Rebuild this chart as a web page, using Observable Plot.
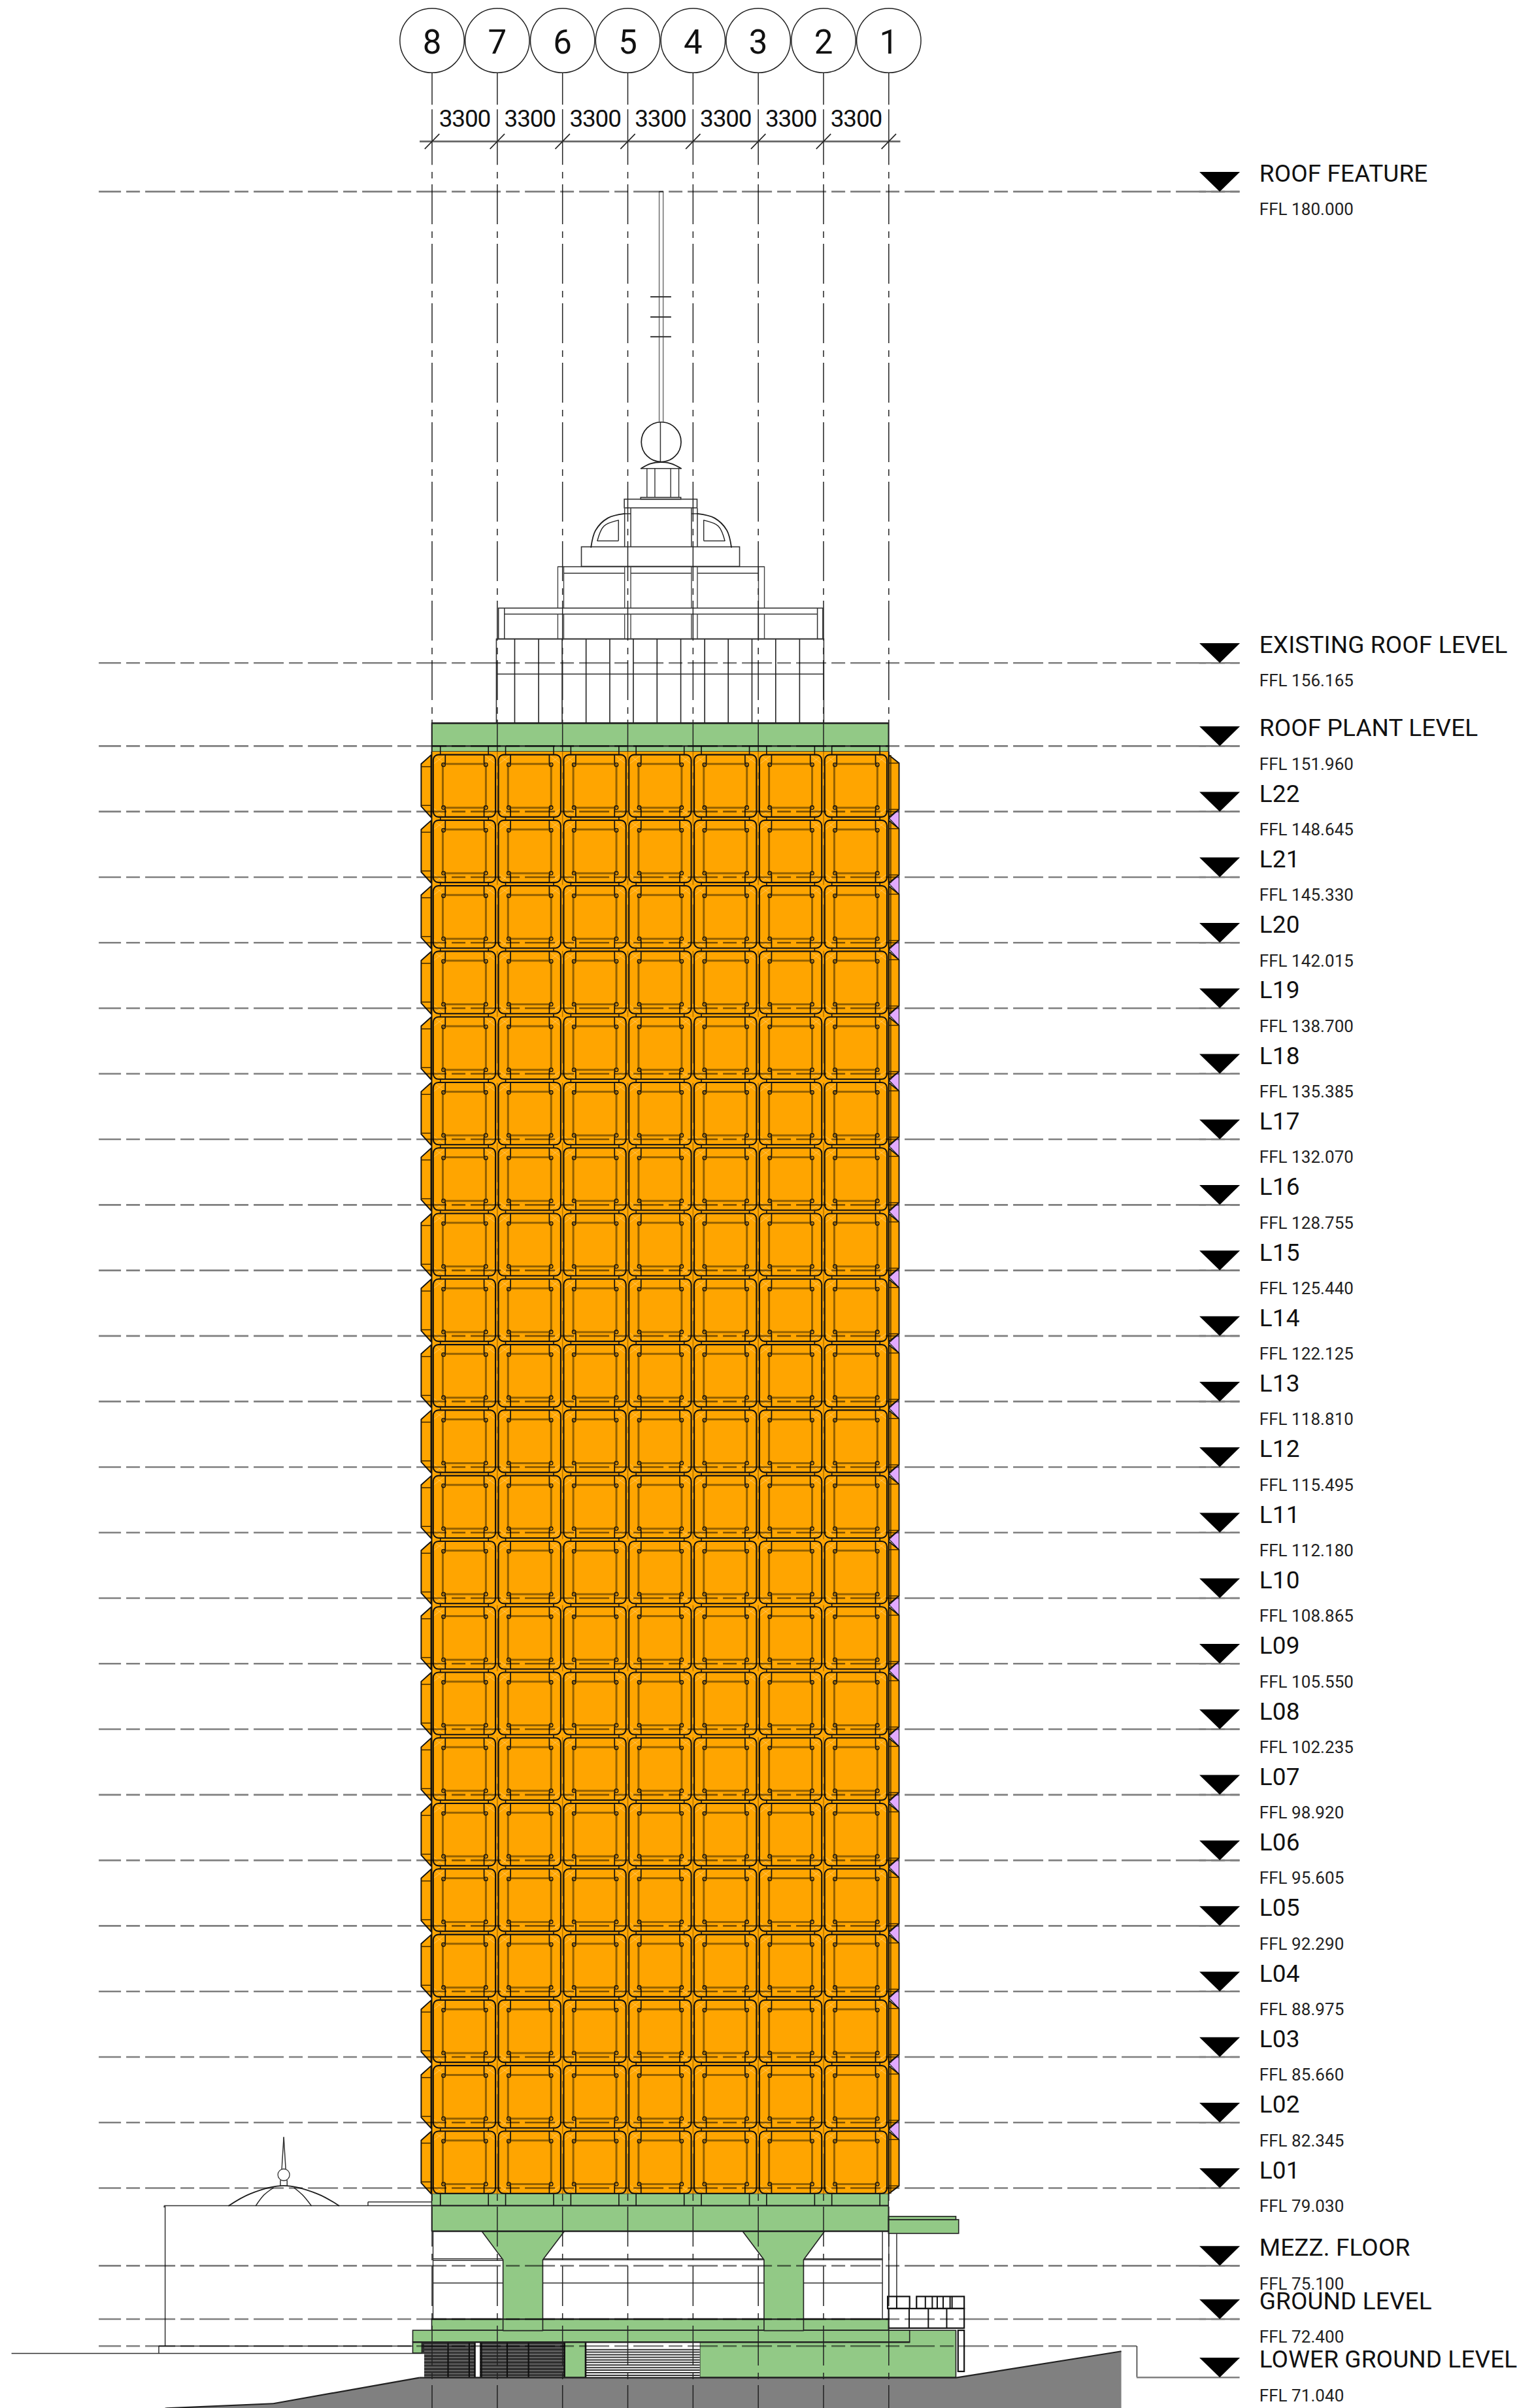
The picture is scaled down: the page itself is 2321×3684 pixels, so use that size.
<!DOCTYPE html>
<html><head><meta charset="utf-8">
<script src="https://cdn.jsdelivr.net/npm/d3@7"></script>
<script src="https://cdn.jsdelivr.net/npm/@observablehq/plot@0.6"></script>
<style>
html,body{margin:0;padding:0;background:#fff}
svg{display:block}
.lname text{letter-spacing:.1px}
.lffl text{letter-spacing:.05px}
.dim text{letter-spacing:-1.2px}
</style></head><body><div id="chart"></div>
<script>
// All x values: metres east of grid line 8. All y values: FFL in metres.
const gridNames=["8","7","6","5","4","3","2","1"];
const gridX=[0,3.3,6.6,9.9,13.2,16.5,19.8,23.1];
const bayLabels=["3300","3300","3300","3300","3300","3300","3300"];
const levelNames=["ROOF FEATURE","EXISTING ROOF LEVEL","ROOF PLANT LEVEL","L22","L21","L20","L19","L18","L17","L16","L15","L14","L13","L12","L11","L10","L09","L08","L07","L06","L05","L04","L03","L02","L01","MEZZ. FLOOR","GROUND LEVEL","LOWER GROUND LEVEL"];
const levelFFL=[180,156.165,151.96,148.645,145.33,142.015,138.7,135.385,132.07,128.755,125.44,122.125,118.81,115.495,112.18,108.865,105.55,102.235,98.92,95.605,92.29,88.975,85.66,82.345,79.03,75.1,72.4,71.04];
const levelText=["180.000","156.165","151.960","148.645","145.330","142.015","138.700","135.385","132.070","128.755","125.440","122.125","118.810","115.495","112.180","108.865","105.550","102.235","98.920","95.605","92.290","88.975","85.660","82.345","79.030","75.100","72.400","71.040"];
const lowerMarkerY=69.45;
const markerY=levelFFL.map((v,i)=>i===27?lowerMarkerY:v);
const green="#92c986",orange="#ffa500",purple="#e2aaff",grey="#808080",ink="#1c1c1c";
const greenRects=[[0,23.1,151.66,153.11],[0,23.1,76.84,78.74],[23.1,26.65,76.72,77.42],[23.1,26.51,77.42,77.58],[0,23.1,71.82,72.4],[13.56,26.51,69.44,71.82],[-0.96,24.17,71.23,71.82],[-0.96,-0.5,70.67,71.23],[6.73,7.77,69.44,71.23]];
const columnLeft=[[2.52,76.84],[6.69,76.84],[5.6,75.4],[5.6,71.82],[3.59,71.82],[3.59,75.4]];
const columnRight=[[15.71,76.84],[19.85,76.84],[18.79,75.4],[18.79,71.82],[16.79,71.82],[16.79,75.4]];
const groundShape=[[-0.64,69.44],[26.51,69.44],[34.86,70.775],[34.86,67.89],[-13.5,67.89],[-8.03,68.13]];
const roofRects=[[3.27,19.83,153.11,157.36],[3.375,19.78,157.36,158.92],[7.57,15.57,161.03,162.02],[9.74,13.42,163.99,164.43],[10.57,12.6,164.43,164.52]];
const roofBays=[4.18,5.39,6.58,7.79,8.99,10.18,11.38,12.58,13.79,14.98,16.18,17.38,18.59];
const tierPosts=[6.36,6.66,9.74,10.05,13.12,13.42,16.51,16.81];
const lanternCols=[10.87,11.27,12.07,12.48];
const mastX=[11.49,11.69];
const mastTicks=[174.68,173.66,172.66];
const thinLines=[
 [3.27,155.6,19.83,155.6],[3.66,158.63,19.49,158.63],[3.66,157.36,3.66,158.92],[19.49,157.36,19.49,158.92],
 [6.36,161.03,16.81,161.03],[6.66,160.7,9.74,160.7],[10.05,160.7,13.12,160.7],[13.42,160.7,16.51,160.7],
 [10.05,162.02,10.05,163.99],[13.12,162.02,13.12,163.99],[9.74,162.02,9.74,163.99],[13.42,162.02,13.42,163.99],
 [9.74,163.71,10.05,163.71],[13.12,163.71,13.42,163.71],[10.57,166,12.6,166],[11.55,166.3,11.55,168.34],
 [9.43,162.34,8.36,162.34],[9.43,162.34,9.43,163.38],[13.74,162.34,14.81,162.34],[13.74,162.34,13.74,163.38],
 [-21.27,70.666,-0.38,70.666],[-13.82,71.04,-0.96,71.04],[-13.82,71.04,-13.82,70.666],[-13.5,78.14,-13.5,71.04],
 [-13.55,78.14,0,78.14],[-13.55,78.14,-13.55,78.05],[-3.24,78.14,-3.24,78.33],[-3.24,78.33,0,78.33],
 [-7.67,79.15,-7.67,79.43],[-7.33,79.15,-7.33,79.43],[-7.67,79.43,-7.33,79.43],
 [-7.6,79.98,-7.5,81.61],[-7.4,79.98,-7.5,81.61],
 [0.05,76.84,0.05,72.4],[22.78,76.84,22.78,72.4],[23.1,76.72,23.1,72],[23.5,76.72,23.5,73.53],
 [0.05,75.45,3.59,75.45],[0.05,75.37,3.59,75.37],[0.05,74.23,3.59,74.23],[5.6,75.4,16.79,75.4],[5.6,75.45,16.79,75.45],[5.6,74.23,16.79,74.23],[18.79,75.4,22.78,75.4],[18.79,75.45,22.78,75.45],[18.79,74.23,22.78,74.23],
 [0,72.4,23.1,72.4],[-0.96,71.53,24.17,71.53],[24.17,71.58,26.51,71.58],[3.59,72.4,3.59,71.82],[5.6,72.4,5.6,71.82],[16.79,72.4,16.79,71.82],[18.79,72.4,18.79,71.82],
 [15.4,71.23,15.4,69.44],[18.74,71.23,18.74,69.44],[22.78,71.82,22.78,69.44],[26.1,71.58,26.1,69.44],
 [35.65,71.04,35.65,lowerMarkerY]
];
const heavyLines=[[0,151.96,23.1,151.96],[0,153.11,23.1,153.11],[0,78.14,23.1,78.14],[0,76.84,23.1,76.84],[0,72.4,23.1,72.4],[13.56,71.23,24.17,71.23],[-0.96,71.23,13.56,71.23],[-0.64,69.44,26.51,69.44],[26.51,69.44,34.86,70.775],[-0.64,69.44,-8.03,68.13],[-8.03,68.13,-13.5,67.89]];
const stairRects=[[23.06,24.17,72.92,73.53],[24.52,26.93,72.92,73.53],[23.11,26.93,71.93,72.92],[26.62,26.93,69.74,71.82]];
const stairPosts=[[23.5,72.92,73.53],[24.95,72.92,73.53],[25.3,72.92,73.53],[25.55,72.92,73.53],[25.85,72.92,73.53],[26.2,72.92,73.53],[26.3,72.92,73.53],[24.13,71.93,72.92],[25.1,71.93,72.92],[26.03,71.93,72.92]];
const louvreVerticals=[0.81,1.88,2.16,2.5,3.8,4.88,6.69];
const louvreDark=[[-0.5,6.73,70.67,71.23],[-0.38,6.73,69.44,70.67]];
const louvreLight=[[7.77,13.56,69.44,71.23]];
const louvreSlit=[[2.2,2.45,69.44,71.23]];
const darkSlats=[71.1,70.95,70.78,70.62,70.46,70.3,70.13,69.97,69.8,69.64,69.5];
const lightSlats=[70.86,70.73,70.6,70.47,70.34,70.21,70.08,69.95,69.82,69.69,69.56];
const podiumTicks=[0.42,2.85];
const domeCurve=[[-10.28,78.14],[-9.2,78.74],[-7.5,79.15],[-5.8,78.74],[-4.71,78.14]];
const domeRibA=[[-8.91,78.14],[-8.5,78.68],[-8.03,79.04]];
const domeRibB=[[-6.11,78.14],[-6.55,78.68],[-6.97,79.04]];
const lanternCap=[[10.57,166],[11.05,166.24],[11.59,166.32],[12.1,166.24],[12.6,166]];
const archA=[[8.04,162.02],[8.27,162.87],[8.89,163.49],[9.74,163.71]];
const archB=[[15.14,162.02],[14.91,162.87],[14.29,163.49],[13.42,163.71]];
const archWinA=[[8.36,162.34],[8.69,163.08],[9.43,163.38]];
const archWinB=[[14.81,162.34],[14.48,163.08],[13.74,163.38]];
const floors=levelFFL.slice(3,25), bays=gridX.slice(0,7);
const panels=[],windows=[],corners=[],glints=[],notches=[],ties=[],finL=[],finR=[],finLines=[],wedges=[];
floors.forEach((L,fi)=>{
 const b=L-0.288,t=L+2.862;
 finL.push({id:fi,p:[[-0.05,t],[-0.55,t-0.45],[-0.55,b+0.55],[-0.05,b]]});
 finR.push({id:fi,p:[[23.1,t],[23.62,t-0.41],[23.62,b+0.4],[23.1,b]]});
 finLines.push([-0.55,t-0.59,-0.05,t-0.59],[-0.55,b+0.6,-0.05,b+0.6],[23.1,t-0.41,23.62,t-0.41],[23.1,b+0.4,23.62,b+0.4],[23.2,t,23.2,b]);
 bays.forEach(x0=>{
  panels.push([x0+0.075,x0+3.225,b,t]);
  windows.push([x0+0.56,x0+2.74,b+0.47,t-0.47]);
  for(const cx of [x0+0.67,x0+2.63]){corners.push([cx,t,cx,t-0.42],[cx,b,cx,b+0.42]);}
  for(const [xa,xb] of [[x0+0.075,x0+0.67],[x0+2.63,x0+3.225]]) for(const [ya,yb] of [[t,t-0.45],[b,b+0.45]]){
    glints.push([xa,ya,xb,yb],[xa,yb,xb,ya]);
  }
  notches.push([x0+0.58,t-0.49],[x0+2.72,t-0.49],[x0+0.58,b+0.49],[x0+2.72,b+0.49]);
  for(const o of podiumTicks){ties.push(fi===0?[x0+o,151.96,x0+o,t]:[x0+o,t,x0+o,t+0.155]);
    if(fi===floors.length-1) ties.push([x0+o,b,x0+o,78.14]);}
 });
});
for(let i=1;i<floors.length;i++){
  const bu=floors[i-1]-0.288,tl=floors[i]+2.862;
  wedges.push({id:i,p:[[23.12,bu-0.05],[23.62,bu+0.4],[23.62,tl-0.41]]});
}
const flat=a=>a.flatMap(o=>o.p.map(q=>({id:o.id,x:q[0],y:q[1]})));
const tri=levelFFL.map((v,i)=>({id:i,p:[[38.81,markerY[i]+1],[40.86,markerY[i]+1],[39.84,markerY[i]]]}));
const R=(a,o)=>Plot.rect(a,{x1:d=>d[0],x2:d=>d[1],y1:d=>d[2],y2:d=>d[3],...o});
const S=(a,o)=>Plot.link(a,{x1:d=>d[0],y1:d=>d[1],x2:d=>d[2],y2:d=>d[3],strokeLinecap:"butt",...o});
const P=(a,o)=>Plot.line(a,{x:d=>d[0],y:d=>d[1],curve:"linear-closed",...o});
const C=(a,o)=>Plot.line(a,{x:d=>d[0],y:d=>d[1],curve:"catmull-rom",stroke:ink,strokeWidth:1.8,...o});
const F=(a,o)=>Plot.line(flat(a),{x:"x",y:"y",z:"id",curve:"linear-closed",...o});
const font="Roboto, sans-serif";
const gridBottom=67.89;
const dash={stroke:"#000",strokeOpacity:.5,strokeWidth:2.6,strokeDasharray:"46,8,21,8",strokeDashoffset:12};
const fig=Plot.plot({
 width:2321,height:3684,margin:0,
 x:{domain:[-21.835,54.89],axis:null},
 y:{domain:[67.89,189.675],axis:null},
 style:{background:"#fff"},
 marks:[
  S(thinLines,{stroke:"#333",strokeWidth:1.5}),
  C(domeCurve,{}),C(domeRibA,{strokeWidth:1.4}),C(domeRibB,{strokeWidth:1.4}),
  Plot.dot([[-7.5,79.7]],{x:d=>d[0],y:d=>d[1],r:9,stroke:"#333",strokeWidth:1.3,fill:"#fff"}),
  R(roofRects,{fill:"none",stroke:"#333",strokeWidth:1.6}),
  Plot.ruleX(roofBays,{y1:153.11,y2:157.36,stroke:"#222",strokeWidth:1.6}),
  Plot.ruleX(tierPosts,{y1:157.36,y2:158.63,stroke:"#444",strokeWidth:1.4}),
  Plot.ruleX(tierPosts,{y1:158.92,y2:161.03,stroke:"#444",strokeWidth:1.4}),
  Plot.ruleX(lanternCols,{y1:164.52,y2:166,stroke:"#333",strokeWidth:1.4}),
  Plot.ruleX(mastX,{y1:168.34,y2:180,stroke:"#777",strokeWidth:1.6}),
  Plot.ruleY(mastTicks,{x1:11.06,x2:12.11,stroke:"#333",strokeWidth:2}),
  S([[11.49,180,11.69,180]],{stroke:"#555",strokeWidth:1.5}),
  C(lanternCap,{}),C(archA,{}),C(archB,{}),C(archWinA,{strokeWidth:1.4}),C(archWinB,{strokeWidth:1.4}),
  Plot.dot([[11.59,167.34]],{x:d=>d[0],y:d=>d[1],r:30.4,stroke:ink,strokeWidth:1.7,fill:"none"}),
  R(stairRects,{fill:"#fff",stroke:"#111",strokeWidth:2.2}),
  S(stairPosts.map(d=>[d[0],d[1],d[0],d[2]]),{stroke:"#111",strokeWidth:2}),
  P(groundShape,{fill:grey,stroke:"none"}),
  R(greenRects,{fill:green,stroke:"#222",strokeWidth:1.6}),
  P(columnLeft,{fill:green,stroke:"#222",strokeWidth:1.6}),
  P(columnRight,{fill:green,stroke:"#222",strokeWidth:1.6}),
  R(louvreDark,{fill:"#2f2f2f"}),
  Plot.ruleY(darkSlats,{x1:-0.38,x2:6.73,stroke:"#6f6f6f",strokeWidth:1.6}),
  R(louvreLight,{fill:"#fff"}),
  Plot.ruleY(lightSlats,{x1:7.77,x2:13.56,stroke:"#333",strokeWidth:2}),
  R(louvreSlit,{fill:"#fff",stroke:"#111",strokeWidth:1}),
  Plot.ruleX(louvreVerticals,{y1:69.44,y2:71.23,stroke:"#111",strokeWidth:2.2}),
  Plot.ruleX([7.77],{y1:69.44,y2:71.23,stroke:"#111",strokeWidth:2.4}),
  S(heavyLines,{stroke:"#222",strokeWidth:2.2}),
  Plot.ruleX(gridX,{y1:186,y2:184.38,stroke:"#222",strokeWidth:1.5}),
  Plot.ruleX(gridX,{y1:184.15,y2:181.34,stroke:"#222",strokeWidth:1.5}),
  Plot.ruleX(gridX,{y1:180.98,y2:gridBottom,stroke:"#222",strokeWidth:1.5,strokeDasharray:"10,9,61,11"}),
  Plot.rect([[0,23.1,78.74,151.66]],{x1:d=>d[0],x2:d=>d[1],y1:d=>d[2],y2:d=>d[3],fill:orange}),
  F(finL,{fill:orange,stroke:"#111",strokeWidth:1.9}),
  F(finR,{fill:orange,stroke:"#111",strokeWidth:1.9}),
  F(wedges,{fill:purple,stroke:"#111",strokeWidth:1.1}),
  S(finLines,{stroke:"#332100",strokeWidth:1.4}),
  Plot.ruleX([-0.02,23.1],{y1:78.74,y2:151.66,stroke:"#111",strokeWidth:2}),
  Plot.ruleX(gridX.slice(1,7),{y1:78.74,y2:151.66,stroke:"#000",strokeOpacity:.3,strokeWidth:1.5,strokeDasharray:"61,10,10,10"}),
  S(glints,{stroke:"#fff",strokeOpacity:.22,strokeWidth:1.2}),
  R(windows,{fill:"none",stroke:"#5c3e00",strokeOpacity:.66,strokeWidth:3,rx:3}),
  S(corners,{stroke:"#111",strokeWidth:1.7}),
  S(ties,{stroke:"#111",strokeWidth:1.6}),
  Plot.dot(notches,{x:d=>d[0],y:d=>d[1],r:2.8,stroke:"#111",strokeWidth:1.3,fill:"none"}),
  R(panels,{fill:"none",stroke:"#111",strokeWidth:2.1,rx:8}),
  Plot.ruleY(levelFFL.slice(0,27),{x1:-16.84,x2:40.86,...dash}),
  Plot.ruleY([71.04],{x1:-16.84,x2:35.65,...dash}),
  Plot.ruleY(levelFFL.slice(0,27),{x1:38.81,x2:40.86,stroke:"#808080",strokeWidth:2.6}),
  Plot.ruleY([lowerMarkerY],{x1:35.65,x2:40.86,stroke:"#808080",strokeWidth:2.6}),
  F(tri,{fill:"#000",stroke:"none"}),
  Plot.text(levelNames,{x:()=>41.84,y:(d,i)=>markerY[i]+0.496,text:d=>d,textAnchor:"start",lineAnchor:"bottom",fontSize:37,fontFamily:font,fill:"#111",className:"lname"}),
  Plot.text(levelText,{x:()=>41.84,y:(d,i)=>markerY[i]-1.2,text:d=>"FFL "+d,textAnchor:"start",lineAnchor:"bottom",fontSize:26,fontFamily:font,fill:"#222",className:"lffl"}),
  Plot.dot(gridX,{x:d=>d,y:()=>187.64,r:49.2,fill:"#fff",stroke:"#222",strokeWidth:1.5}),
  Plot.text(gridNames,{x:(d,i)=>gridX[i],y:()=>186.97,text:d=>d,textAnchor:"middle",lineAnchor:"bottom",fontSize:51,fontFamily:font,fill:"#111"}),
  Plot.ruleY([182.54],{x1:-0.61,x2:23.7,stroke:"#666",strokeWidth:2.6}),
  S(gridX.map(x=>[x-0.37,182.16,x+0.37,182.92]),{stroke:"#222",strokeWidth:1.6}),
  Plot.text(bayLabels,{x:(d,i)=>gridX[i]+1.65,y:()=>183.29,text:d=>d,textAnchor:"middle",lineAnchor:"bottom",fontSize:37,fontFamily:font,fill:"#111",className:"dim"})
 ]
});
document.getElementById("chart").appendChild(fig);
</script></body></html>
